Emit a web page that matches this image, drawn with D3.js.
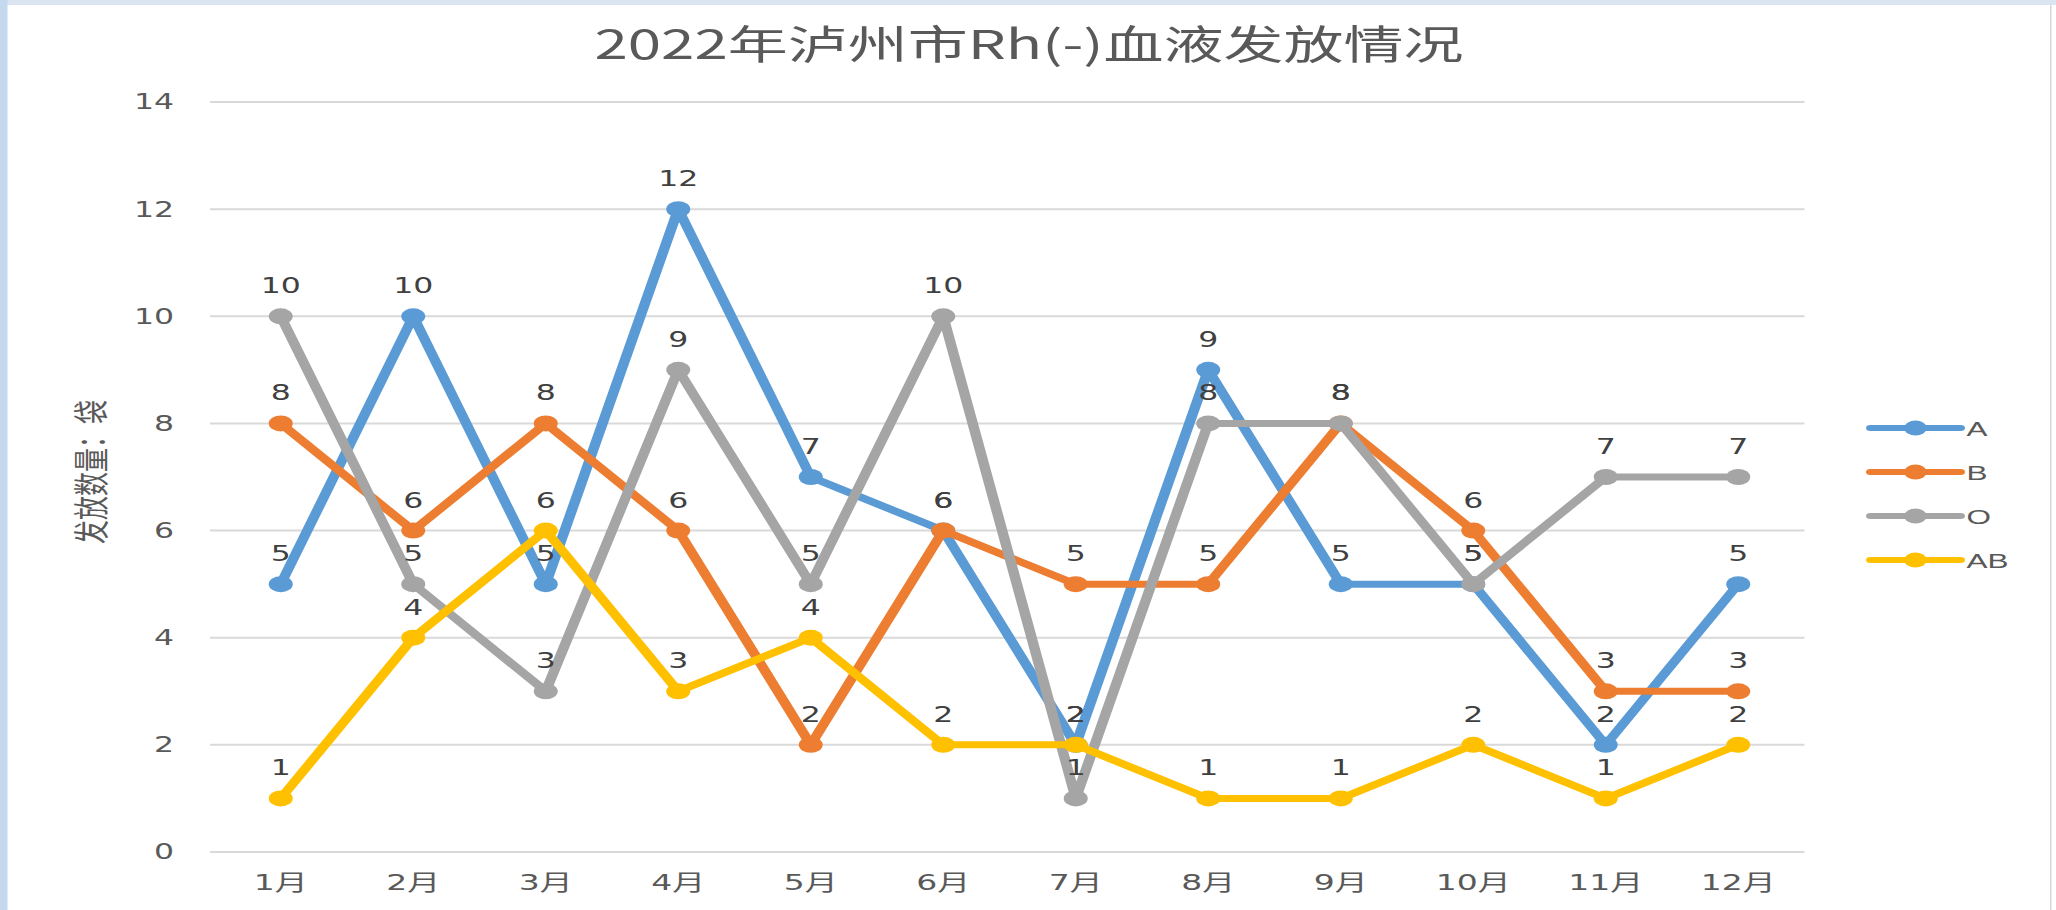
<!DOCTYPE html>
<html>
<head>
<meta charset="utf-8">
<script src="https://cdn.jsdelivr.net/npm/d3@7"></script>
<style>
  body { margin: 0; background: #ffffff; overflow: hidden; }
  svg { display: block; }
</style>
</head>
<body>
<svg id="chart"></svg>
<script>

var months = ["1月", "2月", "3月", "4月", "5月", "6月", "7月", "8月", "9月", "10月", "11月", "12月"]
var seriesNames = ["A", "B", "O", "AB"]
var valuesA = [5, 10, 5, 12, 7, 6, 2, 9, 5, 5, 2, 5]
var valuesB = [8, 6, 8, 6, 2, 6, 5, 5, 8, 6, 3, 3]
var valuesO = [10, 5, 3, 9, 5, 10, 1, 8, 8, 5, 7, 7]
var valuesAB = [1, 4, 6, 3, 4, 2, 2, 1, 1, 2, 1, 2]
var yTicks = [0, 2, 4, 6, 8, 10, 12, 14]

var colors = ["#5b9bd5", "#ed7d31", "#a5a5a5", "#ffc000"]
var series = [valuesA, valuesB, valuesO, valuesAB].map(function(v, i) {
    return { name: seriesNames[i], values: v, color: colors[i] }
})

// the original screenshot is stretched sideways, so draw narrow and stretch the svg
var stretch = 1.5
var W = 2056 / stretch, H = 910

var svg = d3.select("#chart")
    .attr("width", 2056)
    .attr("height", 910)
    .attr("viewBox", "0 0 " + W + " " + H)
    .attr("preserveAspectRatio", "none")

// window frame bits
svg.append("rect").attr("x", 0).attr("y", 0).attr("width", W).attr("height", 5).attr("fill", "#dbe5f1")
svg.append("rect").attr("x", 0).attr("y", 0).attr("width", 5).attr("height", H).attr("fill", "#c4d8ee")
svg.append("rect").attr("x", W - 4).attr("y", 5).attr("width", 1).attr("height", H).attr("fill", "#d6d6d6")

var x = d3.scaleBand().domain(months).range([143, 1203])
var y = d3.scaleLinear().domain([0, 14]).range([852, 102])

function cx(i) { return x(months[i]) + x.bandwidth() / 2 }

var numFont = "'DejaVu Sans', sans-serif"
var cjkFont = "'DejaVu Sans', 'Noto Sans CJK SC', sans-serif"

// gridlines
svg.append("g").selectAll("line")
    .data(yTicks)
    .enter().append("line")
    .attr("x1", 140).attr("x2", 1203)
    .attr("y1", function(d) { return y(d) })
    .attr("y2", function(d) { return y(d) })
    .attr("stroke", "#d9d9d9")
    .attr("stroke-width", 2)

// y tick labels
svg.append("g").selectAll("text")
    .data(yTicks)
    .enter().append("text")
    .attr("x", 116)
    .attr("y", function(d) { return y(d) + 7.5 })
    .attr("text-anchor", "end")
    .attr("font-family", numFont)
    .attr("font-size", 21)
    .attr("fill", "#595959")
    .text(function(d) { return d })

// x labels
svg.append("g").selectAll("text")
    .data(months)
    .enter().append("text")
    .attr("x", function(d) { return x(d) + x.bandwidth() / 2 })
    .attr("y", 890)
    .attr("text-anchor", "middle")
    .attr("font-family", cjkFont)
    .attr("font-size", 22)
    .attr("fill", "#595959")
    .text(function(d) { return d })

// title
svg.append("text")
    .attr("x", 686)
    .attr("y", 59)
    .attr("text-anchor", "middle")
    .attr("font-family", "'Noto Sans CJK SC', sans-serif")
    .attr("font-size", 40)
    .attr("fill", "#595959")
    .text("2022年泸州市Rh(-)血液发放情况")

// y axis title
svg.append("text")
    .attr("transform", "translate(70,472) rotate(-90)")
    .attr("text-anchor", "middle")
    .attr("font-family", "'Noto Sans CJK SC', sans-serif")
    .attr("font-size", 24)
    .attr("fill", "#595959")
    .text("发放数量：袋")

var line = d3.line()
    .x(function(d, i) { return cx(i) })
    .y(function(d) { return y(d) })

var seriesG = svg.append("g").selectAll("g")
    .data(series)
    .enter().append("g")

seriesG.append("path")
    .attr("d", function(s) { return line(s.values) })
    .attr("fill", "none")
    .attr("stroke", function(s) { return s.color })
    .attr("stroke-width", 7)
    .attr("stroke-linejoin", "round")
    .attr("stroke-linecap", "round")

seriesG.selectAll("circle")
    .data(function(s) { return s.values.map(function(v, i) { return { v: v, i: i, color: s.color } }) })
    .enter().append("circle")
    .attr("cx", function(d) { return cx(d.i) })
    .attr("cy", function(d) { return y(d.v) })
    .attr("r", 8)
    .attr("fill", function(d) { return d.color })

// data labels go over every line
var labelG = svg.append("g")
series.forEach(function(s) {
    labelG.selectAll(null)
        .data(s.values)
        .enter().append("text")
        .attr("x", function(d, i) { return cx(i) })
        .attr("y", function(d) { return y(d) - 23 })
        .attr("text-anchor", "middle")
        .attr("font-family", numFont)
        .attr("font-size", 21)
        .attr("fill", "#404040")
        .text(function(d) { return d })
})

// legend
var legend = svg.append("g").selectAll("g")
    .data(series)
    .enter().append("g")
    .attr("transform", function(d, i) { return "translate(0," + (428 + i * 44) + ")" })

legend.append("line")
    .attr("x1", 1247).attr("x2", 1307)
    .attr("y1", 0).attr("y2", 0)
    .attr("stroke", function(d) { return d.color })
    .attr("stroke-width", 6)
    .attr("stroke-linecap", "round")

legend.append("circle")
    .attr("cx", 1277).attr("cy", 0).attr("r", 7.5)
    .attr("fill", function(d) { return d.color })

legend.append("text")
    .attr("x", 1311)
    .attr("y", 7.5)
    .attr("font-family", "'Liberation Sans', Arial, sans-serif")
    .attr("font-size", 21)
    .attr("fill", "#595959")
    .text(function(d) { return d.name })

</script>
</body>
</html>
